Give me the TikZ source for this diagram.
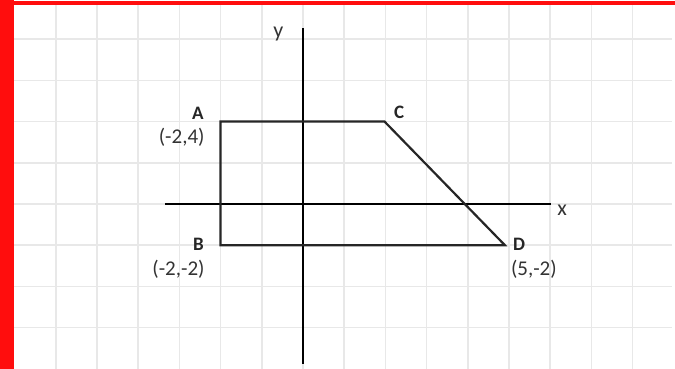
\documentclass[tikz,border=0pt]{standalone}
\usepackage{fontspec}
\setmainfont{Carlito}
\usepackage{tikz}
\usetikzlibrary{positioning}

\begin{document}
\begin{tikzpicture}[
  x=41.2pt, y=41.2pt,
  gridline/.style={draw=black!9, line width=1.5pt},
  axis/.style={draw=black, line width=1.6pt},
  edge/.style={draw=black!85, line width=2.2pt, line join=miter},
  vname/.style={font=\fontsize{19}{21}\selectfont\bfseries, text=black!85, inner sep=1pt},
  vcoord/.style={font=\fontsize{21}{23}\selectfont, text=black!80, inner sep=1pt},
  axlabel/.style={font=\fontsize{22}{24}\selectfont, text=black!80, inner sep=1pt}
]
\useasboundingbox (-7.354, -4.005) rectangle (9.029, 4.951);
\fill[white] (-7.354, -4.005) rectangle (9.029, 4.951);

% grid
\foreach \gx in {-6,...,8}
  \draw[gridline] (\gx, 4.83) -- (\gx, -4.005);
\foreach \gy in {-3,...,4}
  \draw[gridline] (-7.014, \gy) -- (8.96, \gy);

% red frame
\fill[red!95] (-7.354, -4.005) rectangle (-7.014, 4.951);
\fill[red!95] (-7.014, 4.83) rectangle (9.029, 4.92);

% axes
\coordinate (xl) at (-3.35, 0);
\coordinate (xr) at (6.02, 0);
\coordinate (yb) at (0, -3.88);
\coordinate (yt) at (0, 4.27);
\draw[axis] (xl) -- (xr);
\draw[axis] (yb) -- (yt);
\node[axlabel] (xlab) at (6.29, -0.14) {x};
\node[axlabel] (ylab) at (-0.6, 4.12) {y};

% trapezoid
\coordinate (A) at (-2, 2);
\coordinate (C) at (1.98, 2);
\coordinate (B) at (-2, -1);
\coordinate (D) at (4.9, -1);
\draw[edge] (A) -- (C) -- (D) -- (B) -- cycle;

% labels
\node[vname, anchor=east] (Alab) at (-2.38, 2.21) {A};
\node[vcoord, anchor=east] (Acoord) at (-2.36, 1.62) {(-2,4)};
\node[vname, anchor=west] (Clab) at (2.18, 2.23) {C};
\node[vname, anchor=east] (Blab) at (-2.38, -0.97) {B};
\node[vcoord, anchor=east] (Bcoord) at (-2.36, -1.58) {(-2,-2)};
\node[vname, anchor=west] (Dlab) at (5.07, -0.97) {D};
\node[vcoord, anchor=west] (Dcoord) at (5.02, -1.58) {(5,-2)};
\end{tikzpicture}
\end{document}
